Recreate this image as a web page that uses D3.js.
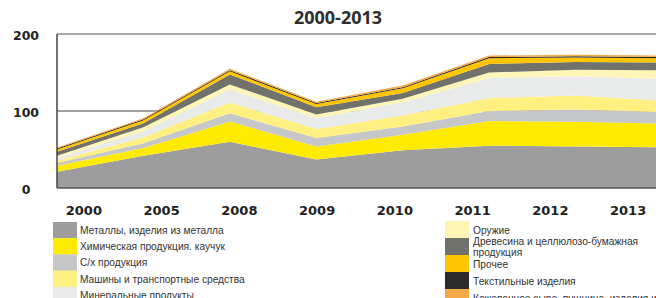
<!DOCTYPE html>
<html>
<head>
<meta charset="utf-8">
<script src="https://cdn.jsdelivr.net/npm/d3@7"></script>
<style>
  body { margin: 0; background: #fff; }
  svg { display: block; }
</style>
</head>
<body>
<svg width="656" height="298"></svg>
<script>
// years along the x axis
var years = [2000, 2005, 2008, 2009, 2010, 2011, 2012, 2013];

// series, bottom to top of the stack
var metals    = [21, 42, 60, 37, 49, 55, 54, 53];
var chemicals = [8, 10, 26.5, 17, 20, 32, 32, 30.5];
var agro      = [3.5, 6, 10.5, 11, 11, 13, 16, 15];
var machines  = [3, 8, 14, 11.5, 14, 17, 18, 15];
var minerals  = [3.5, 8, 17, 14, 17.5, 26, 25, 28];
var weapons   = [3, 5, 6.5, 5, 4.5, 7, 8.5, 11.5];
var wood      = [5, 5, 13, 9.5, 7.5, 11, 10, 10];
var other     = [3, 4, 4, 4, 6, 7.5, 6, 5.5];
var textiles  = [1.2, 1.2, 1.5, 1.5, 1.5, 1.5, 1.5, 1.5];
var leather   = [1.5, 1.5, 2, 1.5, 2, 2, 2, 2];

var keys = ["metals", "chemicals", "agro", "machines", "minerals", "weapons", "wood", "other", "textiles", "leather"];
var seriesValues = [metals, chemicals, agro, machines, minerals, weapons, wood, other, textiles, leather];
var colors = ["#9d9d9d", "#ffeb00", "#c5c7c8", "#fff081", "#e9eaea", "#fff5b6", "#72726c", "#ffc600", "#2b2b2b", "#f5a848"];

// legend labels: left column, then right column
var legendLeft = ["Металлы, изделия из металла", "Химическая продукция. каучук", "С/х продукция",
                  "Машины и транспортные средства", "Минеральные продукты"];
var legendRight = [["Оружие"], ["Древесина и целлюлозо-бумажная", "продукция"], ["Прочее"],
                   ["Текстильные изделия"], ["Кожевенное сыре, пушнина, изделия из них"]];

var yTicks = [0, 100, 200];

// build rows for d3.stack
var table = years.map(function(y, i) {
  var row = { year: y };
  keys.forEach(function(k, j) { row[k] = seriesValues[j][i]; });
  return row;
});

var svg = d3.select("svg");

var x = d3.scalePoint().domain(years).range([57, 662]);
var y = d3.scaleLinear().domain([0, 200]).range([188, 34]);
// the year labels sit on their own evenly spaced slots
var xLabel = d3.scaleBand().domain(years).range([45, 667]);

var layers = d3.stack().keys(keys)(table);

// gridline at 100 sits behind the areas
svg.append("line")
  .attr("x1", x(2000)).attr("x2", 656)
  .attr("y1", y(100)).attr("y2", y(100))
  .attr("stroke", "#444").attr("stroke-width", 1.2);

var area = d3.area()
  .x(function(d) { return x(d.data.year); })
  .y0(function(d) { return y(d[0]); })
  .y1(function(d) { return y(d[1]); });

svg.append("g")
  .selectAll("path")
  .data(layers)
  .enter().append("path")
  .attr("d", area)
  .attr("fill", function(d, i) { return colors[i]; });

// frame: top, left, bottom
svg.append("line")
  .attr("x1", x(2000)).attr("x2", 656)
  .attr("y1", y(200)).attr("y2", y(200))
  .attr("stroke", "#555").attr("stroke-width", 1.2);
svg.append("line")
  .attr("x1", x(2000)).attr("x2", x(2000))
  .attr("y1", y(200)).attr("y2", y(0))
  .attr("stroke", "#444").attr("stroke-width", 1.5);
svg.append("line")
  .attr("x1", x(2000)).attr("x2", 656)
  .attr("y1", y(0)).attr("y2", y(0))
  .attr("stroke", "#555").attr("stroke-width", 1.5);

// title
svg.append("text")
  .attr("x", 338).attr("y", 24)
  .attr("text-anchor", "middle")
  .style("font-family", "'Open Sans', sans-serif")
  .style("font-weight", "700")
  .style("font-size", "18px")
  .style("fill", "#2e2e2e")
  .text("2000-2013");

// y tick labels
svg.append("g")
  .selectAll("text")
  .data(yTicks)
  .enter().append("text")
  .attr("x", 26)
  .attr("y", function(d) { return y(d) + 2; })
  .attr("dy", ".35em")
  .attr("text-anchor", "middle")
  .style("font-family", "'DejaVu Sans', sans-serif")
  .style("font-weight", "700")
  .style("font-size", "12.5px")
  .style("fill", "#222")
  .text(function(d) { return d; });

// x labels
svg.append("g")
  .selectAll("text")
  .data(years)
  .enter().append("text")
  .attr("x", function(d) { return xLabel(d) + xLabel.bandwidth() / 2; })
  .attr("y", 215)
  .attr("text-anchor", "middle")
  .style("font-family", "'DejaVu Sans', sans-serif")
  .style("font-weight", "700")
  .style("font-size", "13px")
  .style("fill", "#222")
  .text(function(d) { return d; });

// legend, left column
var left = svg.append("g")
  .selectAll("g")
  .data(legendLeft)
  .enter().append("g")
  .attr("transform", function(d, i) { return "translate(53," + (222 + i * 16.2) + ")"; });

left.append("rect")
  .attr("width", 24).attr("height", 16.4)
  .attr("fill", function(d, i) { return colors[i]; });

left.append("text")
  .attr("x", 27).attr("y", 8.5)
  .attr("dy", ".35em")
  .style("font-family", "'Liberation Sans', Arial, sans-serif")
  .style("font-size", "10.2px")
  .style("fill", "#333")
  .text(function(d) { return d; });

// legend, right column
var right = svg.append("g")
  .selectAll("g")
  .data(legendRight)
  .enter().append("g")
  .attr("transform", function(d, i) { return "translate(445," + (221 + i * 17) + ")"; });

right.append("rect")
  .attr("width", 24).attr("height", 17.2)
  .attr("fill", function(d, i) { return colors[i + 5]; });

right.append("text")
  .style("font-family", "'Liberation Sans', Arial, sans-serif")
  .style("font-size", "10.2px")
  .style("fill", "#333")
  .selectAll("tspan")
  .data(function(d) { return d; })
  .enter().append("tspan")
  .attr("x", 28)
  .attr("y", function(d, i, nodes) {
    var n = nodes.length;
    return 9 + (i - (n - 1) / 2) * 11;
  })
  .attr("dy", ".35em")
  .text(function(d) { return d; });
</script>
</body>
</html>
